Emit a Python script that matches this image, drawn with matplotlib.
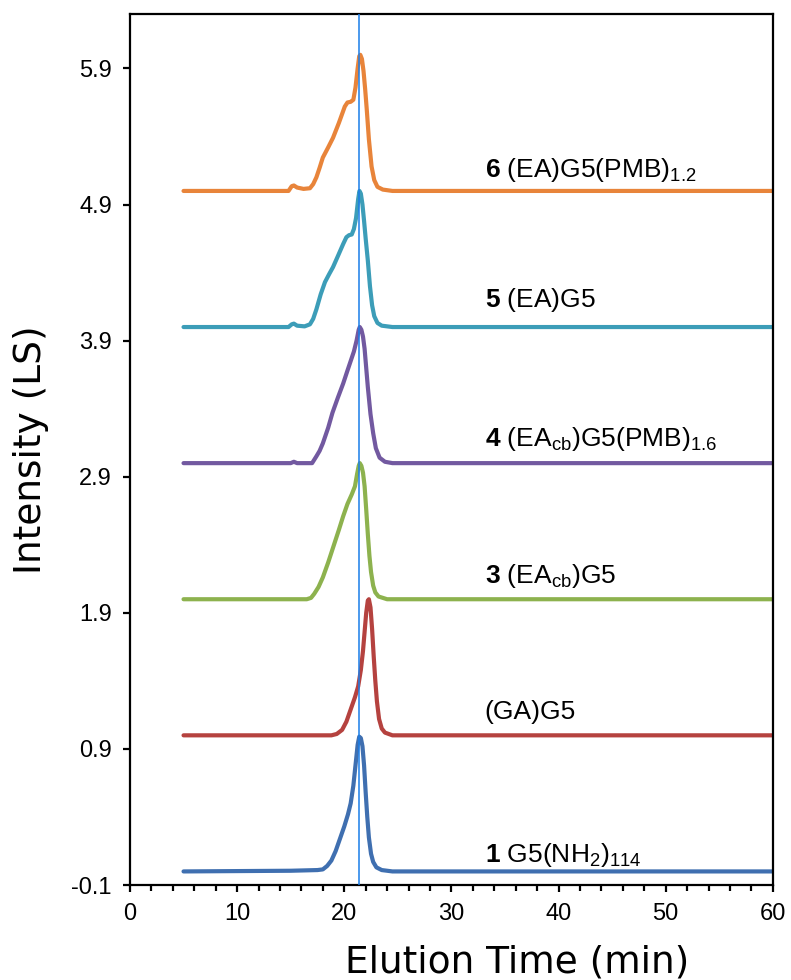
import matplotlib
matplotlib.use("Agg")
import matplotlib.pyplot as plt
from matplotlib.ticker import MultipleLocator, FixedLocator

plt.rcParams['font.family'] = ['Liberation Sans', 'DejaVu Sans']
plt.rcParams['mathtext.fontset'] = 'custom'
plt.rcParams['mathtext.rm'] = 'Liberation Sans'
plt.rcParams['mathtext.bf'] = 'Liberation Sans:bold'
plt.rcParams['mathtext.it'] = 'Liberation Sans:italic'

# normalised LS traces (time in min, relative intensity)
t1 = [5.0, 15.0, 17.5, 18.0, 18.4, 18.8, 19.2, 19.6, 20.0, 20.35, 20.6, 20.85, 21.05, 21.25, 21.4,
      21.55, 21.7, 21.85, 22.0, 22.15, 22.3, 22.5, 22.7, 23.0, 23.5, 24.5, 60.0]
y1 = [0.0, 0.005, 0.01, 0.015, 0.04, 0.08, 0.15, 0.24, 0.33, 0.42, 0.5, 0.63, 0.78, 0.93, 0.99,
      0.98, 0.92, 0.78, 0.58, 0.40, 0.25, 0.13, 0.07, 0.03, 0.01, 0.0, 0.0]

t2 = [5.0, 18.8, 19.3, 19.8, 20.2, 20.6, 21.0, 21.3, 21.55, 21.75, 21.9, 22.05, 22.2, 22.3, 22.45,
      22.6, 22.75, 22.9, 23.05, 23.25, 23.5, 23.8, 24.5, 60.0]
y2 = [0.0, 0.0, 0.01, 0.04, 0.10, 0.19, 0.28, 0.36, 0.48, 0.62, 0.76, 0.90, 0.99, 1.0, 0.94,
      0.78, 0.58, 0.40, 0.25, 0.12, 0.05, 0.02, 0.0, 0.0]

t3 = [5.0, 16.5, 16.9, 17.2, 17.6, 18.0, 18.5, 19.0, 19.5, 19.9, 20.3, 20.7, 21.0, 21.2, 21.35,
      21.45, 21.6, 21.75, 21.9, 22.05, 22.2, 22.35, 22.5, 22.7, 22.9, 23.2, 24.0, 60.0]
y3 = [0.0, 0.0, 0.01, 0.04, 0.09, 0.16, 0.27, 0.39, 0.51, 0.61, 0.70, 0.77, 0.83, 0.92, 0.98,
      1.0, 0.98, 0.93, 0.83, 0.66, 0.48, 0.32, 0.20, 0.10, 0.05, 0.02, 0.0, 0.0]

t4 = [5.0, 15.0, 15.3, 15.6, 17.0, 17.4, 17.7, 18.0, 18.5, 18.9, 19.4, 19.9, 20.3, 20.6, 20.9,
      21.15, 21.35, 21.45, 21.6, 21.75, 21.9, 22.05, 22.2, 22.45, 22.7, 22.95, 23.3, 23.8, 24.5, 60.0]
y4 = [0.0, 0.0, 0.01, 0.0, 0.0, 0.05, 0.09, 0.145, 0.26, 0.37, 0.48, 0.585, 0.68, 0.75, 0.82,
      0.90, 0.98, 1.0, 0.98, 0.93, 0.84, 0.70, 0.56, 0.36, 0.22, 0.11, 0.04, 0.01, 0.0, 0.0]

t5 = [5.0, 14.8, 15.1, 15.3, 15.6, 16.3, 16.8, 17.1, 17.4, 17.8, 18.2, 18.6, 18.95, 19.4, 19.9,
      20.2, 20.45, 20.7, 20.9, 21.1, 21.3, 21.42, 21.55, 21.7, 21.85, 22.0, 22.2, 22.4, 22.6,
      22.8, 23.1, 23.5, 24.5, 60.0]
y5 = [0.0, 0.0, 0.02, 0.025, 0.01, 0.005, 0.02, 0.06, 0.13, 0.24, 0.33, 0.39, 0.44, 0.52, 0.61,
      0.66, 0.675, 0.68, 0.72, 0.80, 0.94, 1.0, 0.98, 0.90, 0.78, 0.65, 0.49, 0.30, 0.16,
      0.08, 0.03, 0.01, 0.0, 0.0]

t6 = [5.0, 14.8, 15.1, 15.3, 15.6, 16.2, 16.8, 17.1, 17.4, 17.7, 18.0, 18.5, 18.95, 19.5, 20.05,
      20.3, 20.6, 20.85, 21.05, 21.25, 21.4, 21.5, 21.65, 21.8, 21.95, 22.1, 22.3, 22.55, 22.8,
      23.1, 23.6, 24.5, 60.0]
y6 = [0.0, 0.0, 0.035, 0.04, 0.025, 0.015, 0.02, 0.05, 0.10, 0.17, 0.245, 0.32, 0.39, 0.50, 0.62,
      0.65, 0.655, 0.67, 0.76, 0.90, 0.99, 1.0, 0.97, 0.88, 0.75, 0.60, 0.38, 0.18, 0.08,
      0.03, 0.01, 0.0, 0.0]

traces = [(t1, y1), (t2, y2), (t3, y3), (t4, y4), (t5, y5), (t6, y6)]
offsets = [0.0, 1.0, 2.0, 3.0, 4.0, 5.0]
colors = ['#3f6fb0', '#b5423f', '#8db24e', '#7259a0', '#3c9db8', '#e8843a']
labels = [r'$\mathbf{1}$ G5(NH$_\mathregular{2}$)$_\mathregular{114}$',
          '(GA)G5',
          r'$\mathbf{3}$ (EA$_\mathregular{cb}$)G5',
          r'$\mathbf{4}$ (EA$_\mathregular{cb}$)G5(PMB)$_\mathregular{1.6}$',
          r'$\mathbf{5}$ (EA)G5',
          r'$\mathbf{6}$ (EA)G5(PMB)$_\mathregular{1.2}$']
label_y = [0.07, 1.12, 2.12, 3.125, 4.145, 5.105]
peak_time = 21.4

fig = plt.figure(figsize=(7.91, 9.80), dpi=100)
ax = fig.add_axes([0.1643, 0.0969, 0.8127, 0.8888])

for (t, y), off, c in zip(traces, offsets, colors):
    ax.plot(t, [v + off for v in y], color=c, lw=3.0, solid_capstyle='round', solid_joinstyle='round')

ax.axvline(peak_time, color='#1a7de8', lw=1.1, zorder=5)

for lab, ly in zip(labels, label_y):
    ax.text(33.1, ly, lab, fontsize=19, ha='left', va='baseline')

ax.set_xlim(0, 60)
ax.set_ylim(-0.1, 6.3)
ax.xaxis.set_major_locator(MultipleLocator(10))
ax.xaxis.set_minor_locator(MultipleLocator(2))
ax.yaxis.set_major_locator(FixedLocator([-0.1, 0.9, 1.9, 2.9, 3.9, 4.9, 5.9]))
ax.set_yticklabels(['-0.1', '0.9', '1.9', '2.9', '3.9', '4.9', '5.9'])
ax.tick_params(axis='both', which='major', direction='out', length=5, width=1.6, labelsize=17, pad=8)
ax.tick_params(axis='x', which='minor', direction='out', length=4, width=1.6)
for s in ax.spines.values():
    s.set_linewidth(1.6)

ax.set_xlabel('Elution Time (min)', fontsize=27, family='DejaVu Sans', va='top')
ax.xaxis.set_label_coords(0.603, -0.068)
ax.set_ylabel('Intensity (LS)', fontsize=27, family='DejaVu Sans')
ax.yaxis.set_label_coords(-0.126, 0.5)

fig.savefig('out.png', dpi=100)
